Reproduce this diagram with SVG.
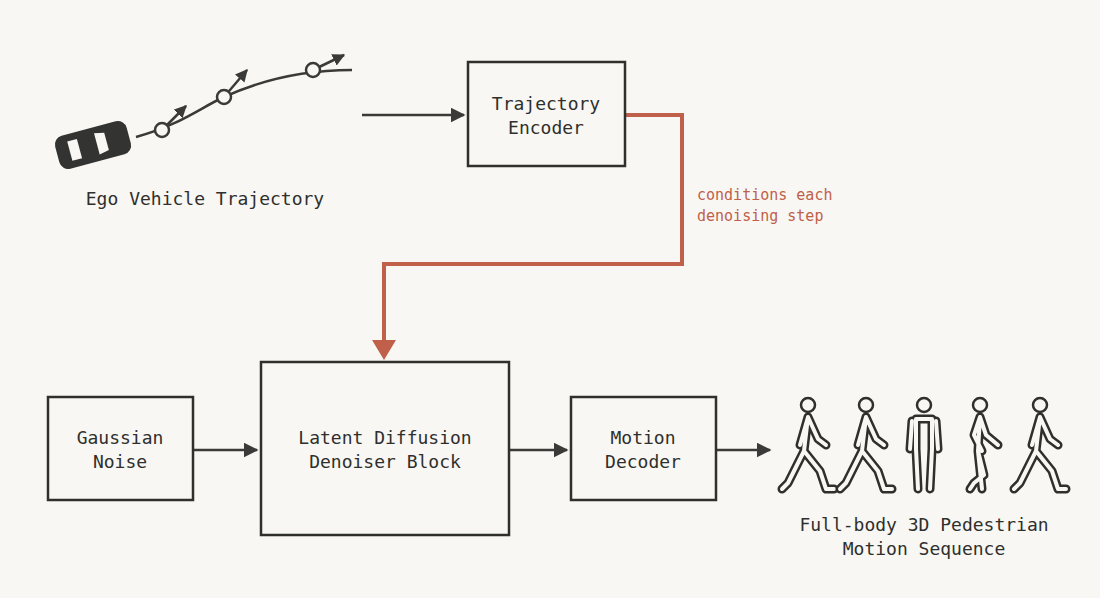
<svg xmlns="http://www.w3.org/2000/svg" width="1100" height="598" viewBox="0 0 1100 598">
<defs>
<style>
.box{fill:none;stroke:#2f2f2d;stroke-width:2.5}
.t{font-family:"DejaVu Sans Mono","Liberation Mono",monospace;font-size:18px;fill:#2f2f2d;text-anchor:middle}
.ln{stroke:#3a3a38;stroke-width:2.5;fill:none}
.o{stroke:#2f2f2d;stroke-width:9;fill:none;stroke-linecap:round;stroke-linejoin:round}
.i{stroke:#f8f7f3;stroke-width:4;fill:none;stroke-linecap:round;stroke-linejoin:round}
.h{fill:none;stroke:#2f2f2d;stroke-width:2.5}
</style>
<marker id="a" viewBox="0 0 10 10" refX="9" refY="5" markerWidth="6" markerHeight="6" orient="auto" markerUnits="strokeWidth"><path d="M0,0L10,5L0,10z" fill="#3a3a38"/></marker>
<marker id="s" viewBox="0 0 10 10" refX="9" refY="5" markerWidth="5" markerHeight="5" orient="auto" markerUnits="strokeWidth"><path d="M0,0L10,5L0,10z" fill="#3a3a38"/></marker>
<g id="walk"><path d="M0,12 L-8,40 M0,12 L10,34 L18,40 M0,12 L-4,46 L-20,78 L-26,84 M-4,46 L12,66 L18,84 L26,84"/></g>
</defs>
<rect width="1100" height="598" fill="#f8f7f3"/>
<g id="connectors">
<path class="ln" d="M362,115H464" marker-end="url(#a)"/>
<path class="ln" d="M193,450H257" marker-end="url(#a)"/>
<path class="ln" d="M509,450H567" marker-end="url(#a)"/>
<path class="ln" d="M716,450H770" marker-end="url(#a)"/>
<path d="M625,115H682V264H384V342" fill="none" stroke="#c0604a" stroke-width="4"/>
<path d="M372,340L396,340L384,360z" fill="#c0604a"/>
<text x="697" y="200" font-family="DejaVu Sans Mono,monospace" font-size="15" fill="#c0604a">conditions each</text>
<text x="697" y="221" font-family="DejaVu Sans Mono,monospace" font-size="15" fill="#c0604a">denoising step</text>
</g>
<g id="ego">
<g transform="translate(93,145) rotate(-15)">
<rect x="-37" y="-17" width="74" height="34" rx="9" fill="#333331"/>
<path d="M-24,-10L-14,-10L-14,10L-24,10z" fill="#f8f7f3"/>
<path d="M4,-11L14,-9L14,9L4,11z" fill="#f8f7f3"/>
</g>
<path class="ln" d="M136,137C180,125 200,108 224,97S290,70 352,70"/>
<path class="ln" d="M162,130L186,106" marker-end="url(#s)"/>
<path class="ln" d="M224,97L247,70" marker-end="url(#s)"/>
<path class="ln" d="M313,70L344,55" marker-end="url(#s)"/>
<circle cx="162" cy="130" r="7" fill="#f8f7f3" stroke="#3a3a38" stroke-width="2.5"/>
<circle cx="224" cy="97" r="7" fill="#f8f7f3" stroke="#3a3a38" stroke-width="2.5"/>
<circle cx="313" cy="70" r="7" fill="#f8f7f3" stroke="#3a3a38" stroke-width="2.5"/>
<text class="t" x="205" y="205">Ego Vehicle Trajectory</text>
</g>
<g id="encoder"><rect class="box" x="468" y="62" width="157" height="104"/>
<text class="t" x="546" y="110">Trajectory</text><text class="t" x="546" y="134">Encoder</text></g>
<g id="noise"><rect class="box" x="48" y="397" width="145" height="103"/>
<text class="t" x="120" y="444">Gaussian</text><text class="t" x="120" y="468">Noise</text></g>
<g id="denoiser"><rect class="box" x="261" y="362" width="248" height="173"/>
<text class="t" x="385" y="444">Latent Diffusion</text><text class="t" x="385" y="468">Denoiser Block</text></g>
<g id="decoder"><rect class="box" x="571" y="397" width="145" height="103"/>
<text class="t" x="643" y="444">Motion</text><text class="t" x="643" y="468">Decoder</text></g>
<g id="pedestrians">
<g transform="translate(808,405)"><circle class="h" cy="0" r="7"/><use href="#walk" class="o"/><use href="#walk" class="i"/></g>
<g transform="translate(866,405)"><circle class="h" cy="0" r="7"/><use href="#walk" class="o"/><use href="#walk" class="i"/></g>
<g transform="translate(924,405)"><circle class="h" cy="0" r="7"/>
<path class="o" d="M-12,16L-14,44M12,16L14,44M-8,14H8V44L6,84M-8,14V44L-6,84"/>
<path class="i" d="M-12,16L-14,44M12,16L14,44M-8,14H8V44L6,84M-8,14V44L-6,84"/></g>
<g transform="translate(980,405)"><circle class="h" cy="0" r="7"/>
<path class="o" d="M0,12L-6,30L2,46M0,12L6,30L18,40M0,12L-2,46L2,84M-2,46L4,70L-6,78L-10,84"/>
<path class="i" d="M0,12L-6,30L2,46M0,12L6,30L18,40M0,12L-2,46L2,84M-2,46L4,70L-6,78L-10,84"/></g>
<g transform="translate(1040,405)"><circle class="h" cy="0" r="7"/><use href="#walk" class="o"/><use href="#walk" class="i"/></g>
<text class="t" x="924" y="531">Full-body 3D Pedestrian</text>
<text class="t" x="924" y="555">Motion Sequence</text>
</g>
</svg>
